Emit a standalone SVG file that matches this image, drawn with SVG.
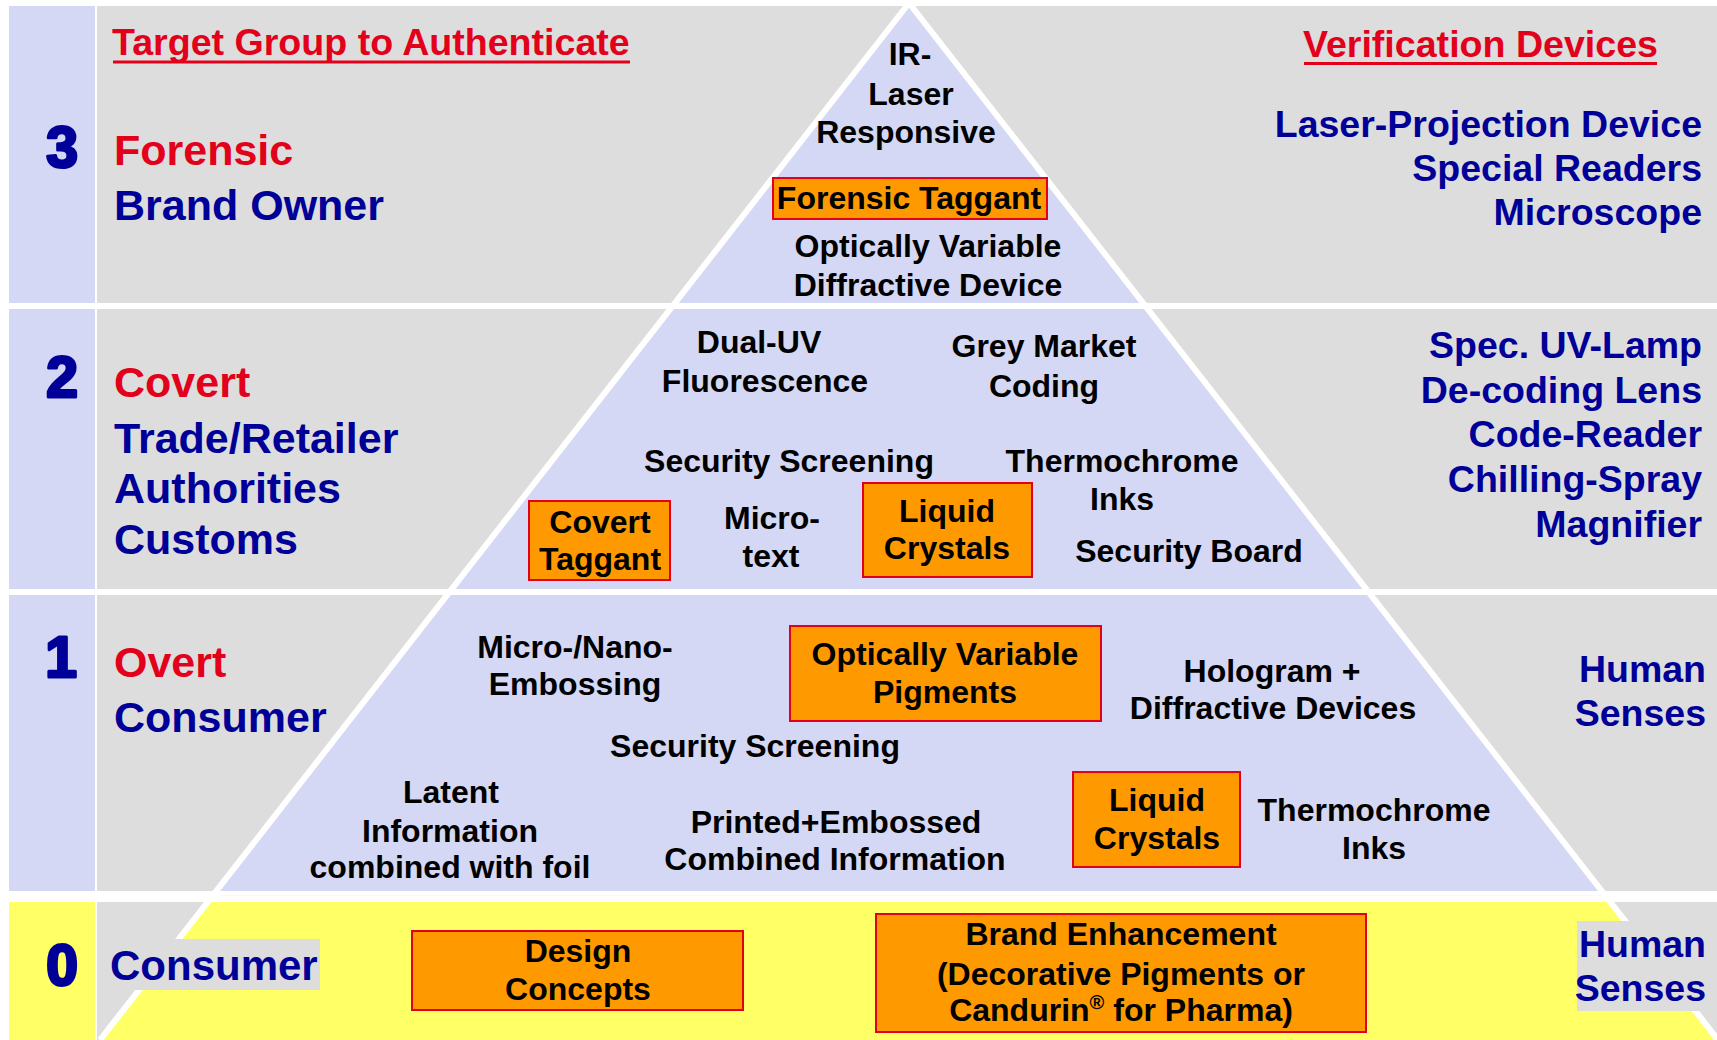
<svg xmlns="http://www.w3.org/2000/svg" width="1717" height="1040" viewBox="0 0 1717 1040">
<style>
  text { font-family: "Liberation Sans", Arial, sans-serif; font-weight: bold; }
  .hdr { font-size: 37.6px; fill: #E3001B; }
  .digit { font-size: 57px; fill: #000099; stroke: #000099; stroke-width: 3; stroke-linejoin: round; text-anchor: middle; }
  .red { font-size: 43px; fill: #E3001B; }
  .blue { font-size: 43px; fill: #000099; }
  .dev { font-size: 37.5px; fill: #000099; text-anchor: end; }
  .pt { font-size: 32px; fill: #000000; text-anchor: middle; }
  .box { fill: #FF9900; stroke: #E3001B; stroke-width: 2; }
  .lav { fill: #D4D8F4; }
  .gray { fill: #DDDDDD; }
  .yel { fill: #FFFF66; }
  .edge { stroke: #FFFFFF; stroke-width: 6; fill: none; }
</style>
<rect x="0" y="0" width="1717" height="1040" fill="#FFFFFF"/>

<g id="background">
  <rect class="lav" x="9" y="6" width="86" height="297"/>
  <rect class="lav" x="9" y="309" width="86" height="280"/>
  <rect class="lav" x="9" y="595" width="86" height="296"/>
  <rect class="yel" x="9" y="902" width="86" height="138"/>
  <rect class="gray" x="97" y="6" width="1620" height="297"/>
  <rect class="gray" x="97" y="309" width="1620" height="280"/>
  <rect class="gray" x="97" y="595" width="1620" height="296"/>
  <rect class="gray" x="97" y="902" width="1620" height="138"/>
</g>

<g id="pyramid">
  <polygon class="lav" points="907,6 911,6 1143,303 675,303"/>
  <polygon class="lav" points="670,309 1148,309 1366,589 452,589"/>
  <polygon class="lav" points="447,595 1371,595 1602,891 216,891"/>
  <line x1="220" y1="895.5" x2="1605" y2="895.5" stroke="#FFFFCC" stroke-width="1"/>
  <polygon class="yel" points="208,902 1610,902 1718,1040 100,1040"/>
</g>

<g id="connectors">
  <line class="edge" x1="909" y1="3" x2="100" y2="1040"/>
  <line class="edge" x1="909" y1="3" x2="1718" y2="1040"/>
</g>

<g id="headers">
  <text class="hdr" x="112" y="55">Target Group to Authenticate</text>
  <line x1="113" y1="62" x2="630" y2="62" stroke="#E3001B" stroke-width="3"/>
  <text class="hdr" x="1658" y="57" text-anchor="end">Verification Devices</text>
  <line x1="1304" y1="63.5" x2="1657" y2="63.5" stroke="#E3001B" stroke-width="3"/>
</g>

<g id="level-3">
  <text class="digit" x="62" y="167">3</text>
  <text class="red" x="114" y="165">Forensic</text>
  <text class="blue" x="114" y="220">Brand Owner</text>
  <text class="dev" x="1702" y="137">Laser-Projection Device</text>
  <text class="dev" x="1702" y="181">Special Readers</text>
  <text class="dev" x="1702" y="225">Microscope</text>
</g>
<g id="ir-laser">
  <text class="pt" x="910" y="65">IR-</text>
  <text class="pt" x="911" y="105">Laser</text>
  <text class="pt" x="906" y="143">Responsive</text>
</g>
<g id="forensic-taggant">
  <rect class="box" x="773" y="178" width="274" height="41"/>
  <text class="pt" x="909" y="209">Forensic Taggant</text>
</g>
<g id="ovdd">
  <text class="pt" x="928" y="257">Optically Variable</text>
  <text class="pt" x="928" y="296">Diffractive Device</text>
</g>

<g id="level-2">
  <text class="digit" x="62" y="397">2</text>
  <text class="red" x="114" y="397">Covert</text>
  <text class="blue" x="114" y="453">Trade/Retailer</text>
  <text class="blue" x="114" y="503">Authorities</text>
  <text class="blue" x="114" y="554">Customs</text>
  <text class="dev" x="1702" y="358">Spec. UV-Lamp</text>
  <text class="dev" x="1702" y="403">De-coding Lens</text>
  <text class="dev" x="1702" y="447">Code-Reader</text>
  <text class="dev" x="1702" y="492">Chilling-Spray</text>
  <text class="dev" x="1702" y="537">Magnifier</text>
</g>
<g id="dual-uv">
  <text class="pt" x="759" y="353">Dual-UV</text>
  <text class="pt" x="765" y="392">Fluorescence</text>
</g>
<g id="grey-market">
  <text class="pt" x="1044" y="357">Grey Market</text>
  <text class="pt" x="1044" y="397">Coding</text>
</g>
<g id="security-screening-2">
  <text class="pt" x="789" y="472">Security Screening</text>
</g>
<g id="thermochrome-2">
  <text class="pt" x="1122" y="472">Thermochrome</text>
  <text class="pt" x="1122" y="510">Inks</text>
</g>
<g id="covert-taggant">
  <rect class="box" x="529" y="501" width="141" height="79"/>
  <text class="pt" x="600" y="533">Covert</text>
  <text class="pt" x="600" y="570">Taggant</text>
</g>
<g id="microtext">
  <text class="pt" x="772" y="529">Micro-</text>
  <text class="pt" x="771" y="567">text</text>
</g>
<g id="liquid-crystals-2">
  <rect class="box" x="863" y="483" width="169" height="94"/>
  <text class="pt" x="947" y="522">Liquid</text>
  <text class="pt" x="947" y="559">Crystals</text>
</g>
<g id="security-board">
  <text class="pt" x="1189" y="562">Security Board</text>
</g>

<g id="level-1">
  <text class="digit" x="61" y="677">1</text>
  <text class="red" x="114" y="677">Overt</text>
  <text class="blue" x="114" y="732" font-size="42">Consumer</text>
  <text class="dev" x="1706" y="682">Human</text>
  <text class="dev" x="1706" y="726">Senses</text>
</g>
<g id="micro-nano">
  <text class="pt" x="575" y="658">Micro-/Nano-</text>
  <text class="pt" x="575" y="695">Embossing</text>
</g>
<g id="ov-pigments">
  <rect class="box" x="790" y="626" width="311" height="95"/>
  <text class="pt" x="945" y="665">Optically Variable</text>
  <text class="pt" x="945" y="703">Pigments</text>
</g>
<g id="hologram">
  <text class="pt" x="1272" y="682">Hologram +</text>
  <text class="pt" x="1273" y="719">Diffractive Devices</text>
</g>
<g id="security-screening-1">
  <text class="pt" x="755" y="757">Security Screening</text>
</g>
<g id="latent">
  <text class="pt" x="451" y="803">Latent</text>
  <text class="pt" x="450" y="842">Information</text>
  <text class="pt" x="450" y="878">combined with foil</text>
</g>
<g id="printed-embossed">
  <text class="pt" x="836" y="833">Printed+Embossed</text>
  <text class="pt" x="835" y="870">Combined Information</text>
</g>
<g id="liquid-crystals-1">
  <rect class="box" x="1073" y="772" width="167" height="95"/>
  <text class="pt" x="1157" y="811">Liquid</text>
  <text class="pt" x="1157" y="849">Crystals</text>
</g>
<g id="thermochrome-1">
  <text class="pt" x="1374" y="821">Thermochrome</text>
  <text class="pt" x="1374" y="859">Inks</text>
</g>

<g id="level-0">
  <text class="digit" x="62" y="985">0</text>
  <rect class="gray" x="100" y="939" width="220" height="51"/>
  <text class="blue" x="110" y="980" style="font-size:42px">Consumer</text>
  <rect class="gray" x="1577" y="921" width="140" height="90"/>
  <text class="dev" x="1706" y="957">Human</text>
  <text class="dev" x="1706" y="1001">Senses</text>
</g>
<g id="design-concepts">
  <rect class="box" x="412" y="931" width="331" height="79"/>
  <text class="pt" x="578" y="962">Design</text>
  <text class="pt" x="578" y="1000">Concepts</text>
</g>
<g id="brand-enhancement">
  <rect class="box" x="876" y="914" width="490" height="118"/>
  <text class="pt" x="1121" y="945">Brand Enhancement</text>
  <text class="pt" x="1121" y="985">(Decorative Pigments or</text>
  <text class="pt" x="1121" y="1021">Candurin<tspan font-size="20" dy="-12">®</tspan><tspan dy="12"> for Pharma)</tspan></text>
</g>
</svg>
